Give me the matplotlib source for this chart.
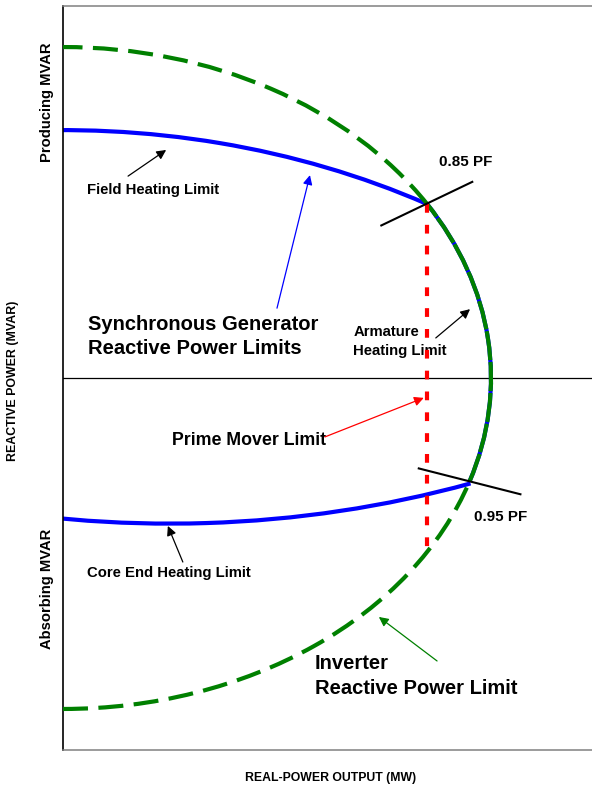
import numpy as np
import matplotlib
matplotlib.use("Agg")
import matplotlib.pyplot as plt
from matplotlib.patches import Arc

plt.rcParams['font.family'] = ['Liberation Sans', 'DejaVu Sans']

# capability curve values (per unit)
inverter_radius = 1.0
pf_over = 0.85     # producing side
pf_under = 0.95    # absorbing side
field_center = [0.0, -0.982]
field_radius = 1.731
core_center = [0.25, 1.65]
core_radius = 2.09
prime_mover_p = 0.85
pf_line_span = [0.875, 1.125]

x_lim = [0.0, 1.236]
y_lim = [-1.124, 1.124]

fig = plt.figure(figsize=(5.92, 7.87), dpi=100)
ax = fig.add_axes([63 / 592, 1 - 750 / 787, 1 - 63 / 592, 744 / 787])
ax.set_xlim(x_lim)
ax.set_ylim(y_lim)
ax.set_xticks([])
ax.set_yticks([])
ax.spines['right'].set_visible(False)
ax.spines['left'].set_color('black')
ax.spines['left'].set_linewidth(1.2)
for s in ['top', 'bottom']:
    ax.spines[s].set_color('#808080')
    ax.spines[s].set_linewidth(1.1)

ax.axhline(0, color='black', lw=0.9, zorder=1)

# angles of the two power factor points on the inverter circle
ang_over = np.degrees(np.arccos(pf_over))
ang_under = -np.degrees(np.arccos(pf_under))
p_over = inverter_radius * np.array([np.cos(np.radians(ang_over)), np.sin(np.radians(ang_over))])
p_under = inverter_radius * np.array([np.cos(np.radians(ang_under)), np.sin(np.radians(ang_under))])

green = '#008000'
blue = '#0000ff'
lw = 3.0

# armature heating limit (blue under a green line with small gaps)
d = 2 * inverter_radius
ax.add_patch(Arc((0, 0), d, d, theta1=ang_under, theta2=ang_over, color=blue, lw=lw, zorder=2))
ax.add_patch(Arc((0, 0), d, d, theta1=ang_under, theta2=ang_over, color=green, lw=lw,
                 linestyle=(0, (7, 0.45)), zorder=3))
# inverter limit dashed parts
ax.add_patch(Arc((0, 0), d, d, theta1=ang_over, theta2=90, color=green, lw=lw,
                 linestyle=(0, (6, 2.5)), zorder=3))
ax.add_patch(Arc((0, 0), d, d, theta1=-90, theta2=ang_under, color=green, lw=lw,
                 linestyle=(0, (6, 2.5)), zorder=3))

# field heating limit
t1 = np.degrees(np.arctan2(p_over[1] - field_center[1], p_over[0] - field_center[0]))
ax.add_patch(Arc(field_center, 2 * field_radius, 2 * field_radius, theta1=t1, theta2=95,
                 color=blue, lw=lw, zorder=2))

# core end heating limit
t2 = np.degrees(np.arctan2(p_under[1] - core_center[1], p_under[0] - core_center[0]))
ax.add_patch(Arc(core_center, 2 * core_radius, 2 * core_radius, theta1=-105, theta2=t2,
                 color=blue, lw=lw, zorder=2))

# prime mover limit
ax.plot([prime_mover_p, prime_mover_p], [p_over[1], -np.sqrt(1 - prime_mover_p ** 2)],
        color='red', lw=3.0, linestyle=(0, (2.1, 2.9)), zorder=4)

# power factor lines
for ang in [ang_over, ang_under]:
    r = np.array(pf_line_span)
    ax.plot(r * np.cos(np.radians(ang)), r * np.sin(np.radians(ang)), color='black', lw=1.5, zorder=5)

# labels
bold = dict(fontweight='bold', color='black', ha='left', va='baseline')
ax.text(0.056, 0.556, 'Field Heating Limit', fontsize=10.7, **bold)
ax.text(0.879, 0.641, '0.85 PF', fontsize=10.9, **bold)
ax.text(0.058, 0.145, 'Synchronous Generator', fontsize=14.5, **bold)
ax.text(0.058, 0.0725, 'Reactive Power Limits', fontsize=14.5, **bold)
ax.text(0.678, 0.127, 'Armature', fontsize=10.7, **bold)
ax.text(0.678, 0.071, 'Heating Limit', fontsize=10.7, **bold)
ax.text(0.255, -0.202, 'Prime Mover Limit', fontsize=12.8, **bold)
ax.text(0.960, -0.431, '0.95 PF', fontsize=10.9, **bold)
ax.text(0.056, -0.601, 'Core End Heating Limit', fontsize=10.7, **bold)
ax.text(0.589, -0.880, 'Inverter', fontsize=14.5, **bold)
ax.text(0.589, -0.956, 'Reactive Power Limit', fontsize=14.5, **bold)

def arrow(head, tail, color):
    ax.annotate('', xy=head, xytext=tail,
                arrowprops=dict(arrowstyle='-|>', color=color, lw=0.9,
                                shrinkA=0, shrinkB=0, mutation_scale=14), zorder=6)

arrow((0.241, 0.689), (0.152, 0.610), 'black')
arrow((0.577, 0.613), (0.500, 0.211), blue)
arrow((0.951, 0.208), (0.871, 0.121), 'black')
arrow((0.843, -0.060), (0.612, -0.178), 'red')
arrow((0.245, -0.447), (0.280, -0.556), 'black')
arrow((0.738, -0.722), (0.874, -0.855), green)

# axis titles
fig.text(47.5 / 592, 1 - 102 / 787, 'Producing MVAR', rotation=90, fontsize=10.6,
         fontweight='bold', ha='center', va='center')
fig.text(13 / 592, 1 - 381 / 787, 'REACTIVE POWER (MVAR)', rotation=90, fontsize=8.9,
         fontweight='bold', ha='center', va='center')
fig.text(46.5 / 592, 1 - 589 / 787, 'Absorbing MVAR', rotation=90, fontsize=10.6,
         fontweight='bold', ha='center', va='center')
fig.text(331 / 592, 1 - 778 / 787, 'REAL-POWER OUTPUT (MW)', fontsize=8.8,
         fontweight='bold', ha='center', va='center')

fig.savefig('out.png', dpi=100)
